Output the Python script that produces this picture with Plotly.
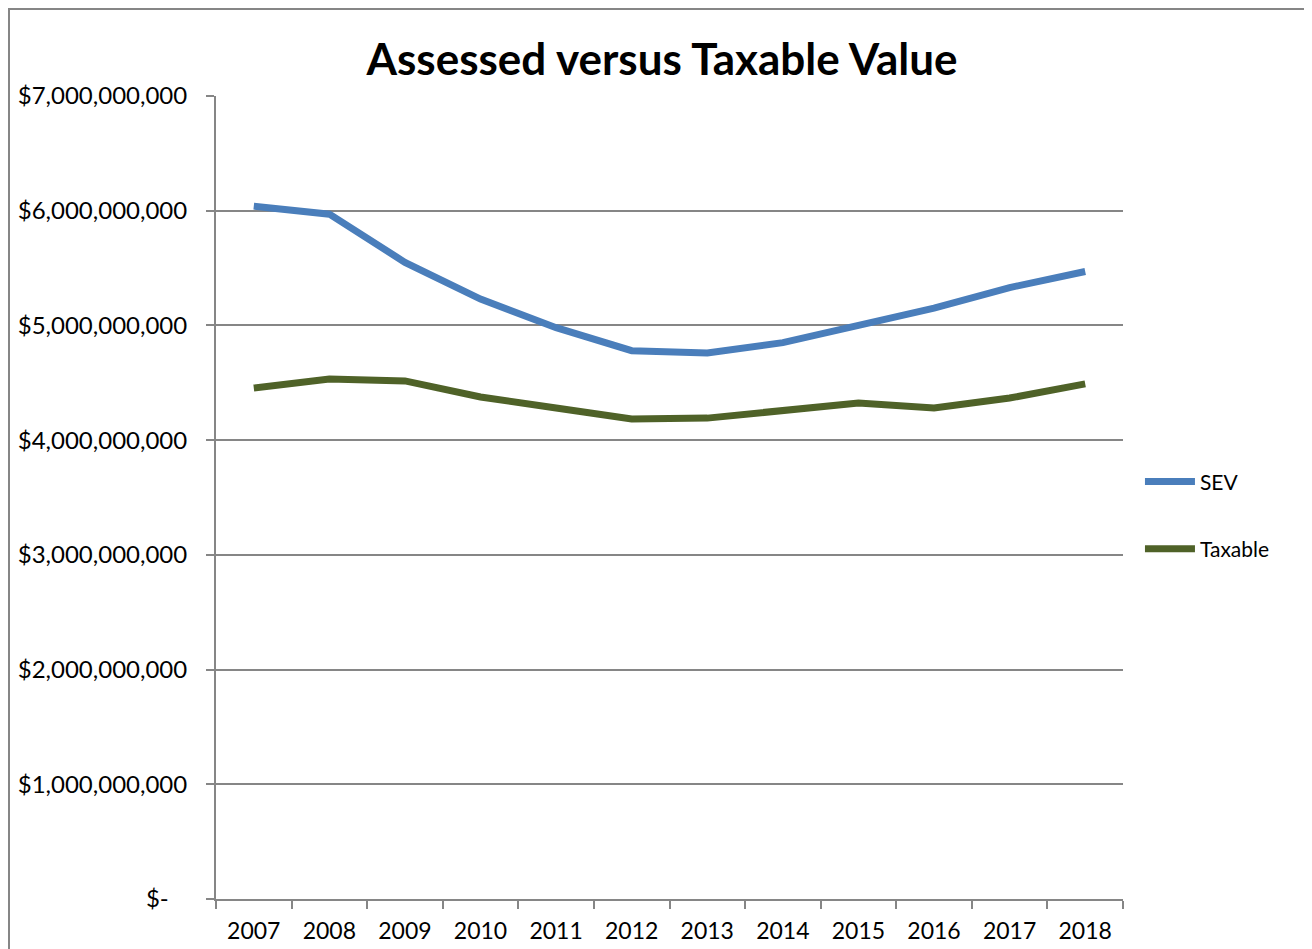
import plotly.graph_objects as go

years = ["2007", "2008", "2009", "2010", "2011", "2012", "2013", "2014", "2015", "2016", "2017", "2018"]
sev = [6.04e9, 5.97e9, 5.55e9, 5.23e9, 4.98e9, 4.78e9, 4.76e9, 4.85e9, 5.00e9, 5.15e9, 5.33e9, 5.47e9]
taxable = [4.455e9, 4.533e9, 4.516e9, 4.376e9, 4.28e9, 4.184e9, 4.192e9, 4.254e9, 4.324e9, 4.28e9, 4.367e9, 4.49e9]
tick_vals = [0, 1e9, 2e9, 3e9, 4e9, 5e9, 6e9, 7e9]
tick_text = ["$-\u00a0\u00a0\u00a0", "$1,000,000,000", "$2,000,000,000", "$3,000,000,000", "$4,000,000,000",
             "$5,000,000,000", "$6,000,000,000", "$7,000,000,000"]

font_family = "Lato, 'Open Sans', sans-serif"
grid = "#868686"

fig = go.Figure()
fig.add_trace(go.Scatter(x=years, y=sev, name="SEV", mode="lines", legendgroup="a",
                         line=dict(color="#4a7ebb", width=7)))
fig.add_trace(go.Scatter(x=years, y=taxable, name="Taxable", mode="lines", legendgroup="b",
                         line=dict(color="#4f6228", width=7)))

fig.update_layout(
    width=1304, height=941,
    margin=dict(l=208, r=189, t=88, b=50),
    paper_bgcolor="white", plot_bgcolor="white",
    title=dict(text="<b>Assessed versus Taxable Value</b>", x=(662 - 216) / 907, xanchor="center",
               xref="paper", y=1 - 52 / 941, yref="container", yanchor="middle",
               font=dict(family=font_family, size=44, color="black")),
    font=dict(family=font_family, color="black"),
    legend=dict(x=1.0187, xanchor="left", y=0.545, yanchor="top", itemwidth=50,
                font=dict(size=21), tracegroupgap=37, bgcolor="rgba(0,0,0,0)"),
    shapes=[dict(type="rect", xref="paper", yref="paper",
                 x0=-207 / 907, x1=1.5, y0=-0.2, y1=(899 - 9) / 803,
                 line=dict(color="#868686", width=2), layer="below")],
)
fig.update_xaxes(type="category", showgrid=False, showline=True, linecolor=grid, linewidth=2,
                 ticks="outside", tickson="boundaries", ticklen=8, tickcolor=grid, tickwidth=2,
                 tickfont=dict(size=23), range=[-0.5, 11.5], ticklabelstandoff=10,
                 automargin=False)
fig.update_yaxes(range=[0, 7e9], tickvals=tick_vals, ticktext=tick_text, showgrid=True,
                 gridcolor=grid, gridwidth=2, showline=True, linecolor=grid, linewidth=2,
                 ticks="outside", ticklen=8, tickcolor=grid, tickwidth=2,
                 tickfont=dict(size=24), zeroline=False, ticklabelstandoff=14,
                 automargin=False)

fig.write_html("out.html")
